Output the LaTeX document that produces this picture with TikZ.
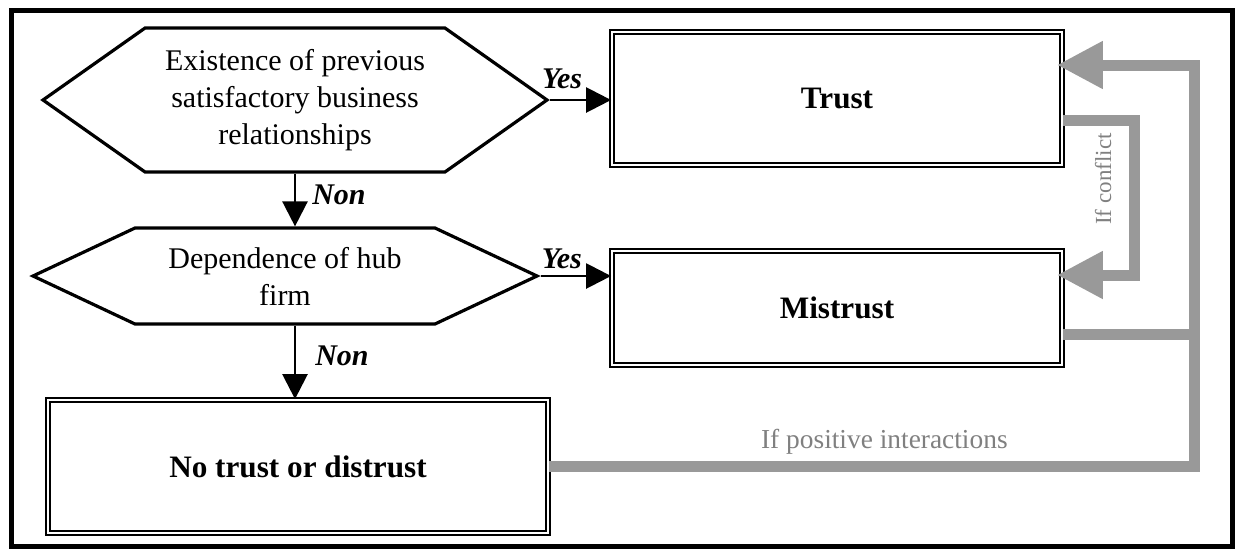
\documentclass[tikz,border=0pt]{standalone}
\usepackage{fontspec}
\setmainfont{Liberation Serif}
\usetikzlibrary{arrows.meta,shapes.symbols}
\definecolor{linegray}{HTML}{999999}
\definecolor{textgray}{HTML}{808080}
\tikzset{
  decision/.style={signal, signal to=west and east, draw, line width=1.6pt,
    align=center, inner sep=0pt, font=\fontsize{15}{18.5}\selectfont},
  state/.style={draw, double, double distance=1pt, line width=0.9pt,
    font=\fontsize{15.6}{18}\selectfont\bfseries},
  flow/.style={line width=1.25pt, -{Triangle[length=12.5pt, width=12.5pt]}},
  answer/.style={font=\fontsize{15}{18}\selectfont\bfseries\itshape, inner sep=0pt},
  feedback/.style={linegray, line width=5.5pt},
  fbtip/.style={-{Triangle[length=23pt, width=22.5pt]}, shorten >=-3pt},
  note/.style={textgray, inner sep=0pt}
}
\begin{document}
\begin{tikzpicture}[x=0.5pt, y=-0.5pt]
  \useasboundingbox (0,0) rectangle (1235,552);
  \draw[line width=2.5pt] (11,10) rectangle (1232,546);

  % decisions
  \node[decision, signal pointer angle=70.4, minimum width=252pt, minimum height=72pt] (exist) at (295,100)
    {Existence of previous\\ satisfactory business\\ relationships};
  \node[decision, signal pointer angle=50.4, minimum width=252pt, minimum height=48pt] (dep) at (285,276)
    {Dependence of hub\\ firm};

  % outcomes
  \node[state, minimum width=225pt, minimum height=66.5pt] (trust) at (837,98.5) {Trust};
  \node[state, minimum width=225pt, minimum height=57pt] (mistrust) at (837,308) {Mistrust};
  \node[state, minimum width=250pt, minimum height=66.5pt] (neutral) at (298,466.5) {No trust or distrust};

  \draw[flow] (exist.east) -- (exist.east -| trust.west) node[answer, pos=0.2, above=5pt] {Yes};
  \draw[flow] (dep.east) -- (dep.east -| mistrust.west) node[answer, pos=0.3, above=3pt] {Yes};
  \draw[flow] (exist.south) -- (exist.south |- dep.north) node[answer, pos=0.41, right=8pt] {Non};
  \draw[flow] (exist.south |- dep.south) -- (exist.south |- neutral.north) node[answer, pos=0.41, right=9.5pt] {Non};

  % feedback loops
  \coordinate (bus top) at (1194,65);
  \coordinate (conflict) at (1134,200);
  \coordinate (trust out) at ([yshift=-11pt]trust.east);
  \coordinate (mistrust in) at ([yshift=16.5pt]mistrust.east);
  \coordinate (mistrust out) at ([yshift=-13pt]mistrust.east);

  \draw[feedback, fbtip] (neutral.east)
    -- node[note, pos=0.52, above=3.5pt, font=\fontsize{13.7}{16}\selectfont] {If positive interactions}
    (neutral.east -| bus top) -- (bus top) -- (bus top -| trust.east);
  \draw[feedback] (mistrust out) -- (mistrust out -| bus top);
  \draw[feedback, fbtip] (trust out) -- (trust out -| conflict) -- (mistrust in -| conflict) -- (mistrust in);
  \node[note, rotate=90, font=\fontsize{11.5}{12}\selectfont] (conflict label) at (1103,179) {If conflict};
\end{tikzpicture}
\end{document}
